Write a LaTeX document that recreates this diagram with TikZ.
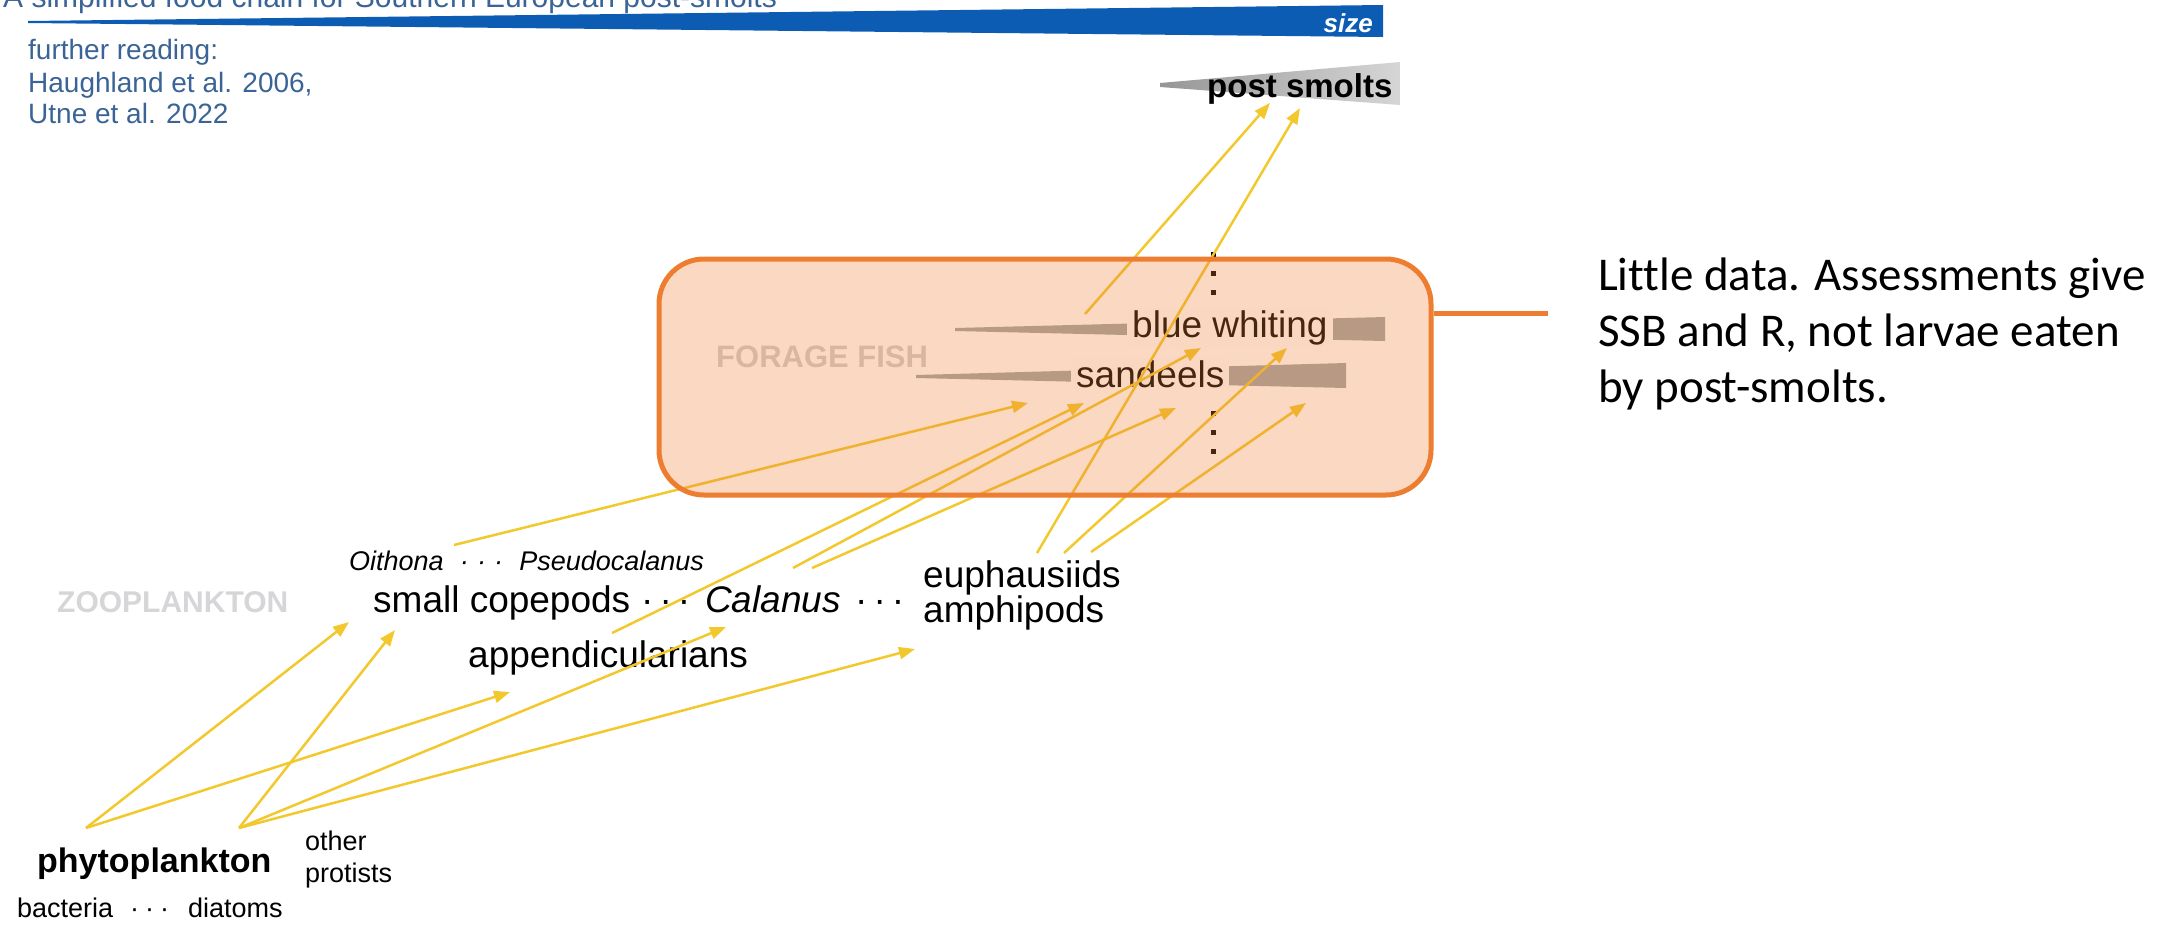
\documentclass[tikz,border=0pt]{standalone}
\usepackage{fontspec}
\setmainfont{Liberation Sans}
\newfontfamily\notefont{Carlito}[Ligatures=NoCommon]
\usetikzlibrary{arrows.meta}
\definecolor{titleblue}{RGB}{58,100,150}
\definecolor{bluewedge}{RGB}{12,92,180}
\definecolor{arrowyellow}{RGB}{242,200,45}
\definecolor{boxorange}{RGB}{237,125,49}
\definecolor{wedgegray}{RGB}{160,166,168}
\definecolor{smoltdark}{RGB}{150,150,150}
\definecolor{smoltlight}{RGB}{214,214,214}
\definecolor{grouplbl}{RGB}{214,214,217}
\definecolor{fishlblgray}{RGB}{208,208,210}
\tikzset{
  txt/.style={inner sep=0pt, anchor=base west},
  big/.style={txt, font=\fontsize{37}{44}\selectfont},
  sml/.style={txt, font=\fontsize{27}{32}\selectfont},
  reading/.style={txt, text=titleblue, font=\fontsize{28}{32}\selectfont},
  fishlbl/.style={big, fill=white, inner xsep=5pt, inner ysep=2pt},
  grouplabel/.style={txt, font=\fontsize{30}{36}\selectfont\bfseries},
  arr/.style={draw=arrowyellow, line width=2.5pt, -{Triangle[length=16pt,width=12pt]}},
  vdot/.style={fill=black},
  notetxt/.style={txt, font=\notefont\fontsize{47}{56}\selectfont}
}
\begin{document}
\begin{tikzpicture}[x=1pt,y=-1pt]
\useasboundingbox (0,0) rectangle (2175,924);
\clip (0,0) rectangle (2175,924);

% title and size bar
\node[txt, text=titleblue, font=\fontsize{30}{36}\selectfont] (title) at (3,7) {A simplified food chain for Southern European post-smolts};
\fill[bluewedge] (28,21) -- (1383,5) -- (1383,37) -- (28,23) -- cycle;
\node[anchor=base east, inner sep=0pt, text=white, font=\fontsize{26}{30}\selectfont\bfseries\itshape] (size) at (1373,32) {size};

% further reading
\node[reading] (fr1) at (28,59) {further reading:};
\node[reading] (fr2) at (28,92) {Haughland et al. 2006,};
\node[reading] (fr3) at (28,123) {Utne et al. 2022};

% post smolts
\shade[left color=smoltdark, right color=smoltlight] (1160,83) -- (1400,62) -- (1400,105) -- (1160,87) -- cycle;
\node[txt, font=\fontsize{33}{40}\selectfont\bfseries] (smolts) at (1207,97) {post smolts};

% forage fish
\fill[wedgegray] (955,328) -- (1385,317) -- (1385,341) -- (955,331) -- cycle;
\fill[wedgegray] (916,375) -- (1346,363) -- (1346,388) -- (916,378) -- cycle;
\node[fishlbl] (bluewhiting) at (1127,337) {blue whiting};
\node[fishlbl] (sandeels) at (1071,387) {sandeels};
\node[grouplabel, text=fishlblgray, font=\fontsize{31}{36}\selectfont\bfseries] (forage) at (716,367) {FORAGE FISH};
\foreach \yy in {254,273,292,413,432,451}{
  \fill[vdot] (1211,\yy-2.5) rectangle +(5,5);
}

% zooplankton
\node[grouplabel, text=grouplbl] (zoo) at (57,612) {ZOOPLANKTON};
\node[sml, font=\fontsize{27}{32}\selectfont\itshape] (oithona) at (349,570) {Oithona\hspace{0.6em}·\hspace{0.3em}·\hspace{0.3em}·\hspace{0.6em}Pseudocalanus};
\node[big] (smallcop) at (373,612) {small copepods};
\node[big] (dotsA) at (641,612) {·\hspace{6pt}·\hspace{6pt}·};
\node[big, font=\fontsize{37}{44}\selectfont\itshape] (calanus) at (705,612) {Calanus};
\node[big] (dotsB) at (855,612) {·\hspace{6pt}·\hspace{6pt}·};
\node[big] (euph) at (923,587) {euphausiids};
\node[big] (amph) at (923,622) {amphipods};
\node[big] (append) at (468,667) {appendicularians};

% phytoplankton
\node[txt, font=\fontsize{34}{40}\selectfont\bfseries] (phyto) at (37,872) {phytoplankton};
\node[sml] (other) at (305,850) {other};
\node[sml] (protists) at (305,882) {protists};
\node[sml] (bacteria) at (17,917) {bacteria};
\node[sml] (dotsC) at (130,917) {·\hspace{6pt}·\hspace{6pt}·};
\node[sml] (diatoms) at (188,917) {diatoms};

% connector end points
\coordinate (phyA) at (86,828);
\coordinate (phyB) at (239,828);
\coordinate (scIn1) at (349,622);
\coordinate (scIn2) at (395,630);
\coordinate (apIn) at (510,692);
\coordinate (caIn) at (726,627);
\coordinate (euIn) at (915,649);
\coordinate (scOut) at (454,545);
\coordinate (apOut) at (612,633);
\coordinate (caOut1) at (793,568);
\coordinate (caOut2) at (812,568);
\coordinate (euOut1) at (1037,553);
\coordinate (euOut2) at (1064,553);
\coordinate (euOut3) at (1091,552);
\coordinate (sdIn1) at (1028,403);
\coordinate (sdIn2) at (1084,403);
\coordinate (sdIn3) at (1176,408);
\coordinate (sdIn4) at (1306,403);
\coordinate (bwIn1) at (1201,348);
\coordinate (bwIn2) at (1287,348);
\coordinate (bwOut) at (1085,314);
\coordinate (psIn1) at (1270,103);
\coordinate (psIn2) at (1300,108);

% arrows
\draw[arr] (phyA) -- (scIn1);
\draw[arr] (phyA) -- (apIn);
\draw[arr] (phyB) -- (scIn2);
\draw[arr] (phyB) -- (caIn);
\draw[arr] (phyB) -- (euIn);
\draw[arr] (scOut) -- (sdIn1);
\draw[arr] (apOut) -- (sdIn2);
\draw[arr] (caOut1) -- (bwIn1);
\draw[arr] (caOut2) -- (sdIn3);
\draw[arr] (euOut1) -- (psIn2);
\draw[arr] (euOut2) -- (bwIn2);
\draw[arr] (euOut3) -- (sdIn4);
\draw[arr] (bwOut) -- (psIn1);

% highlight box
\node[draw=boxorange, line width=5pt, fill=boxorange, fill opacity=0.3, rounded corners=45pt,
      minimum width=772pt, minimum height=236pt, inner sep=0pt] (box) at (1045,377) {};
\coordinate (noteend) at (1548,313);
\draw[boxorange, line width=5pt] (noteend -| box.east) -- (noteend);

% note
\node[notetxt] (note1) at (1598,290) {Little data. Assessments give};
\node[notetxt] (note2) at (1598,346) {SSB and R, not larvae eaten};
\node[notetxt] (note3) at (1598,402) {by post-smolts.};
\end{tikzpicture}
\end{document}
